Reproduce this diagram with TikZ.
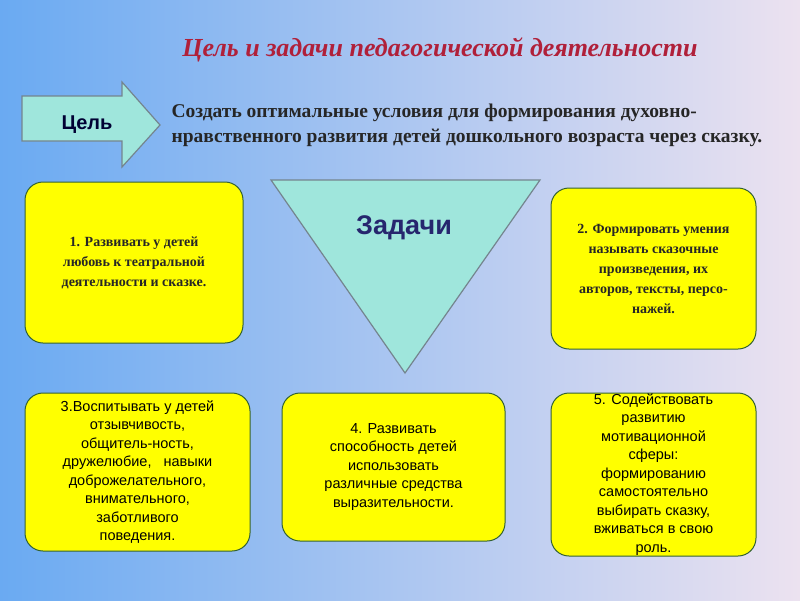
\documentclass[tikz,border=0pt]{standalone}
\usepackage{fontspec}
\setmainfont{Liberation Serif}
\setsansfont{Liberation Sans}
\usetikzlibrary{shapes.arrows}
\definecolor{bgL}{HTML}{6AAAF2}
\definecolor{bgR}{HTML}{ECE2F0}
\definecolor{ybox}{HTML}{FFFF00}
\definecolor{tri}{HTML}{9FE6DC}
\definecolor{titlec}{HTML}{B0203A}
\tikzset{
 ybx/.style={draw=black!70!green!60!gray, line width=1pt, fill=ybox, rounded corners=18pt, align=center, inner sep=0pt},
 sertxt/.style={font=\rmfamily\bfseries\fontsize{14}{20}\selectfont, text=black!85},
 santxt/.style={font=\sffamily\fontsize{14.5}{18.5}\selectfont, text=black},
}
\begin{document}
\begin{tikzpicture}[x=1pt,y=-1pt]
\shade[left color=bgL,right color=bgR] (0,0) rectangle (800,600);
\useasboundingbox (0,0) rectangle (800,600);
\node[font=\rmfamily\bfseries\itshape\fontsize{26}{30}\selectfont, text=titlec] (title) at (440,50) {Цель и задачи педагогической деятельности};
\draw[fill=tri, draw=black!50!cyan!40!gray, line width=1.2pt] (22,96) -- (122,96) -- (122,82) -- (160,125) -- (122,167) -- (122,141) -- (22,141) -- cycle;
\node[font=\sffamily\bfseries\fontsize{20}{22}\selectfont, text=black!80!blue] (goal) at (87,125) {Цель};
\node[font=\rmfamily\bfseries\fontsize{19.5}{25}\selectfont, align=left, anchor=west, text=black!85] (goaltext) at (168,125) {Создать оптимальные условия для формирования духовно-\\нравственного развития детей дошкольного возраста через сказку.};
\draw[fill=tri, draw=black!50!cyan!40!gray, line width=1.2pt] (271,180) -- (540,180) -- (405,373) -- cycle;
\node[font=\sffamily\bfseries\fontsize{27}{30}\selectfont, text=black!60!blue!70!gray] (tasks) at (404,228) {Задачи};
\node[ybx, minimum width=218pt, minimum height=161pt, sertxt] (b1) at (134,262.5) {1. Развивать у детей\\любовь к театральной\\деятельности и сказке.};
\node[ybx, minimum width=205pt, minimum height=161pt, sertxt] (b2) at (653.5,268.5) {2. Формировать умения\\называть сказочные\\произведения, их\\авторов, тексты, персо-\\нажей.};
\node[ybx, minimum width=225pt, minimum height=158pt, santxt] (b3) at (137.5,472) {3.Воспитывать у детей\\отзывчивость,\\общитель-ность,\\дружелюбие,\ \ \ навыки\\доброжелательного,\\внимательного,\\заботливого\\поведения.};
\node[ybx, minimum width=223pt, minimum height=148pt, santxt] (b4) at (393.5,467) {4. Развивать\\способность детей\\использовать\\различные средства\\выразительности.};
\node[ybx, minimum width=205pt, minimum height=163pt, santxt] (b5) at (653.5,474.5) {5. Содействовать\\развитию\\мотивационной\\сферы:\\формированию\\самостоятельно\\выбирать сказку,\\вживаться в свою\\роль.};
\end{tikzpicture}
\end{document}
